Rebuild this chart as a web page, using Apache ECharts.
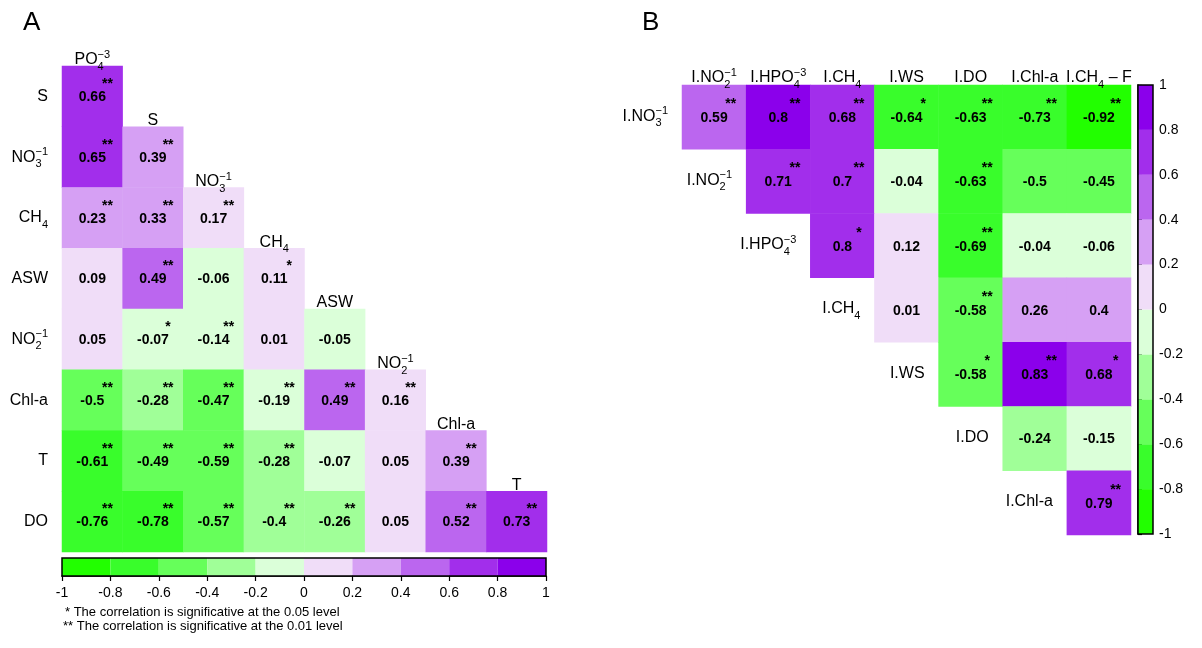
<!DOCTYPE html>
<html><head><meta charset="utf-8">
<script src="https://cdn.jsdelivr.net/npm/echarts@6/dist/echarts.min.js"></script>
<style>html,body{margin:0;padding:0;background:#fff}#c{width:1202px;height:648px}</style>
</head><body><div id="c"></div>
<script>
// ---------------- data ----------------
const aCols = ['PO_{4}^{−3}', 'S', 'NO_{3}^{−1}', 'CH_{4}', 'ASW', 'NO_{2}^{−1}', 'Chl-a', 'T'];
const aRows = ['S', 'NO_{3}^{−1}', 'CH_{4}', 'ASW', 'NO_{2}^{−1}', 'Chl-a', 'T', 'DO'];
const aValues = [
  [0.66],
  [0.65, 0.39],
  [0.23, 0.33, 0.17],
  [0.09, 0.49, -0.06, 0.11],
  [0.05, -0.07, -0.14, 0.01, -0.05],
  [-0.5, -0.28, -0.47, -0.19, 0.49, 0.16],
  [-0.61, -0.49, -0.59, -0.28, -0.07, 0.05, 0.39],
  [-0.76, -0.78, -0.57, -0.398, -0.26, 0.05, 0.52, 0.73]
];
const aSig = [
  ['**'],
  ['**', '**'],
  ['**', '**', '**'],
  ['', '**', '', '*'],
  ['', '*', '**', '', ''],
  ['**', '**', '**', '**', '**', '**'],
  ['**', '**', '**', '**', '', '', '**'],
  ['**', '**', '**', '**', '**', '', '**', '**']
];
const bCols = ['I.NO_{2}^{−1}', 'I.HPO_{4}^{−3}', 'I.CH_{4}', 'I.WS', 'I.DO', 'I.Chl-a', 'I.CH_{4} – F'];
const bRows = ['I.NO_{3}^{−1}', 'I.NO_{2}^{−1}', 'I.HPO_{4}^{−3}', 'I.CH_{4}', 'I.WS', 'I.DO', 'I.Chl-a'];
const bValues = [
  [0.59, 0.803, 0.68, -0.64, -0.63, -0.73, -0.92],
  [0.71, 0.7, -0.04, -0.63, -0.5, -0.45],
  [0.797, 0.12, -0.69, -0.04, -0.06],
  [0.01, -0.58, 0.26, 0.398],
  [-0.58, 0.83, 0.68],
  [-0.24, -0.15],
  [0.79]
];
const bSig = [
  ['**', '**', '**', '*', '**', '**', '**'],
  ['**', '**', '', '**', '', ''],
  ['*', '', '**', '', ''],
  ['', '**', '', ''],
  ['*', '**', '*'],
  ['', ''],
  ['**']
];
const binEdges = [-1, -0.8, -0.6, -0.4, -0.2, 0, 0.2, 0.4, 0.6, 0.8, 1];
const binColors = ['#22ff00', '#39fd2b', '#66ff5a', '#a0ff98', '#dbffd9',
                   '#f0ddf8', '#d6a0f4', '#bb66ef', '#a22eeb', '#8b00eb'];
const footnotes = ['* The correlation is significative at the 0.05 level',
                   '** The correlation is significative at the 0.01 level'];

// ---------------- helpers ----------------
const FONT = '"Liberation Sans", Arial, Helvetica, sans-serif';
const mctx = document.createElement('canvas').getContext('2d');
function measure(t, size) { mctx.font = size + 'px "Liberation Sans", Arial, sans-serif'; return mctx.measureText(t).width; }
function parseMarkup(s) {
  const out = []; const re = /_\{([^}]*)\}|\^\{([^}]*)\}|([^_^]+)/g; let m;
  while ((m = re.exec(s))) {
    if (m[1] !== undefined) out.push({ t: m[1], k: 'sub' });
    else if (m[2] !== undefined) out.push({ t: m[2], k: 'sup' });
    else out.push({ t: m[3], k: 'n' });
  }
  return out;
}
function buildLabel(markup, x, y, align) {
  const toks = parseMarkup(markup);
  const pieces = []; let cx = 0; let i = 0;
  while (i < toks.length) {
    const tk = toks[i];
    if (tk.k === 'n') { pieces.push({ t: tk.t, x: cx, dy: 0, size: 16 }); cx += measure(tk.t, 16); i++; }
    else {
      let w = 0;
      while (i < toks.length && toks[i].k !== 'n') {
        const t = toks[i];
        pieces.push({ t: t.t, x: cx, dy: t.k === 'sub' ? 7 : -5, size: 11 });
        w = Math.max(w, measure(t.t, 11)); i++;
      }
      cx += w;
    }
  }
  const x0 = align === 'center' ? x - cx / 2 : align === 'right' ? x - cx : x;
  return {
    type: 'group',
    children: pieces.map(p => ({
      type: 'text', x: x0 + p.x, y: y + p.dy,
      style: { text: p.t, fill: '#000', fontSize: p.size, fontFamily: FONT, align: 'left', verticalAlign: 'middle' }
    }))
  };
}
function fmt(v) { return String(Number(v.toFixed(2))); }

// ---------------- build series data ----------------
const aHeat = [], aStars = [], aLabels = [];
aValues.forEach((row, i) => row.forEach((v, j) => {
  aHeat.push([j, i, v]);
  if (aSig[i][j]) aStars.push({ pos: [j, i], text: aSig[i][j] });
}));
aCols.forEach((c, j) => aLabels.push({ pos: [j, j], text: c, kind: 'top' }));
aRows.forEach((r, i) => aLabels.push({ pos: [0, i], text: r, kind: 'left' }));

const bHeat = [], bStars = [], bLabels = [];
bValues.forEach((row, i) => row.forEach((v, k) => {
  const j = i + k;
  bHeat.push([j, i, v]);
  if (bSig[i][k]) bStars.push({ pos: [j, i], text: bSig[i][k] });
}));
bCols.forEach((c, j) => bLabels.push({ pos: [j, 0], text: c, kind: 'top' }));
bRows.forEach((r, i) => bLabels.push({ pos: [i, i], text: r, kind: 'left' }));

const bins = binColors.map((c, k) => [binEdges[k], binEdges[k + 1], k]);

function starSeries(items, gridIdx, dx, dy) {
  return {
    type: 'custom', xAxisIndex: gridIdx, yAxisIndex: gridIdx, silent: true, z: 5,
    data: items.map(d => d.pos),
    renderItem: (params, api) => {
      const c = api.coord([api.value(0), api.value(1)]);
      const s = api.size([1, 1]);
      return { type: 'text', x: c[0] + s[0] * dx, y: c[1] + s[1] * dy,
        style: { text: items[params.dataIndex].text, fill: '#000', fontSize: 14, fontWeight: 'bold', fontFamily: FONT, align: 'center', verticalAlign: 'middle' } };
    }
  };
}
function labelSeries(items, gridIdx, topGap, leftGap, leftDy) {
  return {
    type: 'custom', xAxisIndex: gridIdx, yAxisIndex: gridIdx, silent: true, z: 6, clip: false,
    data: items.map(d => d.pos),
    renderItem: (params, api) => {
      const it = items[params.dataIndex];
      const c = api.coord([api.value(0), api.value(1)]);
      const s = api.size([1, 1]);
      if (it.kind === 'top') return buildLabel(it.text, c[0], c[1] - s[1] / 2 - topGap, 'center');
      return buildLabel(it.text, c[0] - s[0] / 2 - leftGap, c[1] + leftDy, 'right');
    }
  };
}
function heatSeries(data, gridIdx) {
  return {
    type: 'heatmap', xAxisIndex: gridIdx, yAxisIndex: gridIdx, data: data, z: 2,
    label: { show: true, formatter: p => fmt(p.value[2]), fontSize: 14, fontWeight: 'bold', color: '#000', fontFamily: FONT, offset: [0, 1] },
    itemStyle: { borderWidth: 0 },
    emphasis: { disabled: true }
  };
}
function barRender(horizontal) {
  return (params, api) => {
    const lo = api.value(0), hi = api.value(1), k = api.value(2);
    const p0 = horizontal ? api.coord([lo, 0]) : api.coord([0, lo]);
    const p1 = horizontal ? api.coord([hi, 1]) : api.coord([1, hi]);
    return { type: 'rect', shape: { x: Math.min(p0[0], p1[0]), y: Math.min(p0[1], p1[1]), width: Math.abs(p1[0] - p0[0]), height: Math.abs(p1[1] - p0[1]) },
      style: { fill: binColors[k] } };
  };
}
function frameRender(horizontal) {
  return (params, api) => {
    const p0 = horizontal ? api.coord([-1, 0]) : api.coord([0, -1]);
    const p1 = horizontal ? api.coord([1, 1]) : api.coord([1, 1]);
    return { type: 'rect', shape: { x: Math.min(p0[0], p1[0]), y: Math.min(p0[1], p1[1]), width: Math.abs(p1[0] - p0[0]), height: Math.abs(p1[1] - p0[1]) },
      style: { fill: 'none', stroke: '#000', lineWidth: 1.5 } };
  };
}

const hiddenCat = (data, gi, inverse) => ({ type: 'category', data: data, gridIndex: gi, show: false, inverse: !!inverse });

const option = {
  backgroundColor: '#fff',
  animation: false,
  textStyle: { fontFamily: FONT },
  grid: [
    { left: 62, top: 66, width: 485, height: 486, outerBoundsMode: 'none' },
    { left: 682, top: 85, width: 449, height: 450, outerBoundsMode: 'none' },
    { left: 62, top: 558, width: 484, height: 18, outerBoundsMode: 'none' },
    { left: 1138, top: 85, width: 15, height: 449, outerBoundsMode: 'none' }
  ],
  xAxis: [
    hiddenCat(aCols, 0),
    hiddenCat(bCols, 1),
    { type: 'value', gridIndex: 2, min: -1, max: 1, interval: 0.2,
      axisLine: { show: true, lineStyle: { color: '#000', width: 1.5 } },
      axisTick: { show: true, length: 5, lineStyle: { color: '#000', width: 1.2 } },
      axisLabel: { color: '#000', fontSize: 14, margin: 10, fontFamily: FONT },
      splitLine: { show: false } },
    { type: 'value', gridIndex: 3, min: 0, max: 1, show: false }
  ],
  yAxis: [
    hiddenCat(aRows, 0, true),
    hiddenCat(bRows, 1, true),
    { type: 'value', gridIndex: 2, min: 0, max: 1, show: false },
    { type: 'value', gridIndex: 3, min: -1, max: 1, interval: 0.2, position: 'right',
      axisLine: { show: true, lineStyle: { color: '#000', width: 1.5 } },
      axisTick: { show: true, length: 4, lineStyle: { color: '#000', width: 1.2 } },
      axisLabel: { color: '#000', fontSize: 14, margin: 6, fontFamily: FONT },
      splitLine: { show: false } }
  ],
  visualMap: {
    type: 'piecewise', show: false, dimension: 2, seriesIndex: [0, 1],
    pieces: binColors.map((c, k) => k === binColors.length - 1
      ? { gte: binEdges[k], lte: binEdges[k + 1], color: c }
      : { gte: binEdges[k], lt: binEdges[k + 1], color: c })
  },
  series: [
    heatSeries(aHeat, 0),
    heatSeries(bHeat, 1),
    starSeries(aStars, 0, 0.25, -0.2),
    starSeries(bStars, 1, 0.26, -0.2),
    labelSeries(aLabels, 0, 6, 14, 0),
    labelSeries(bLabels, 1, 7.5, 14, -1),
    { type: 'custom', xAxisIndex: 2, yAxisIndex: 2, silent: true, data: bins, renderItem: barRender(true), z: 2 },
    { type: 'custom', xAxisIndex: 2, yAxisIndex: 2, silent: true, data: [[-1, 1]], renderItem: frameRender(true), z: 3 },
    { type: 'custom', xAxisIndex: 3, yAxisIndex: 3, silent: true, data: bins, renderItem: barRender(false), z: 2 },
    { type: 'custom', xAxisIndex: 3, yAxisIndex: 3, silent: true, data: [[-1, 1]], renderItem: frameRender(false), z: 3 }
  ],
  graphic: [
    { type: 'text', left: 23, top: 10, style: { text: 'A', fontSize: 26, fontFamily: FONT, fill: '#000' } },
    { type: 'text', left: 642, top: 10, style: { text: 'B', fontSize: 26, fontFamily: FONT, fill: '#000' } },
    { type: 'text', left: 65, top: 606, style: { text: footnotes[0], fontSize: 13, fontFamily: FONT, fill: '#000' } },
    { type: 'text', left: 63, top: 620, style: { text: footnotes[1], fontSize: 13, fontFamily: FONT, fill: '#000' } }
  ]
};
const chart = echarts.init(document.getElementById('c'), null, { renderer: 'canvas' });
chart.setOption(option);
</script>
</body></html>
